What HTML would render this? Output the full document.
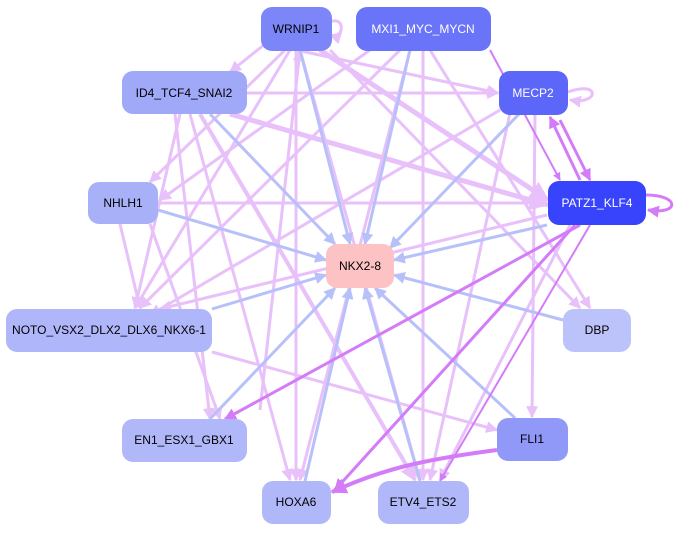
<!DOCTYPE html><html><head><style>body{margin:0;background:#fff}svg{display:block}text{font-family:"Liberation Sans",sans-serif;font-size:12px;text-anchor:middle;dominant-baseline:central}</style></head><body>
<svg width="677" height="533" viewBox="0 0 677 533">
<defs>
<marker id="a" viewBox="0 0 10 10" refX="9" refY="5" markerWidth="4" markerHeight="4" orient="auto"><path d="M0,0L10,5L0,10z" fill="#e8c0fa"/></marker>
<marker id="b" viewBox="0 0 10 10" refX="9" refY="5" markerWidth="4" markerHeight="4" orient="auto"><path d="M0,0L10,5L0,10z" fill="#b8c0fa"/></marker>
<marker id="m" viewBox="0 0 10 10" refX="9" refY="5" markerWidth="4" markerHeight="4" orient="auto"><path d="M0,0L10,5L0,10z" fill="#d47cf8"/></marker>
</defs>
<g fill="none" stroke-width="3">
<g stroke="#e8c0fa" marker-end="url(#a)">
<path d="M296,50 L498,93"/><path d="M320,50 L548,200" stroke-width="5"/><path d="M296,50 L296,480"/><path d="M300,50 L420,480"/><path d="M290,50 L135,308"/><path d="M285,50 L150,182"/><path d="M270,40 L230,72"/><path d="M330,50 L580,308"/>
<path d="M400,50 L140,308"/><path d="M410,50 L300,480"/><path d="M423,50 L423,480"/><path d="M430,50 L590,308"/><path d="M370,50 L160,200"/>
<path d="M247,93 L498,93"/><path d="M230,114 L548,205" stroke-width="5"/><path d="M190,114 L290,480"/><path d="M200,114 L415,480" stroke-width="4"/><path d="M180,114 L135,308"/><path d="M175,114 L210,419"/>
<path d="M158,203 L546,203"/><path d="M510,113 L430,480"/><path d="M535,113 L532,417"/><path d="M500,110 L150,315"/>
<path d="M547,215 L160,309"/><path d="M570,225 L440,480"/><path d="M212,352 L497,430"/>
<path d="M150,224 L220,419"/><path d="M120,224 L140,308"/><path d="M260,410 L300,50"/>
<path d="M568,92 C600,80 600,105 570,100"/><path d="M330,22 C345,15 345,40 330,35"/>
</g>
<g stroke="#b8c0fa" marker-end="url(#b)">
<path d="M300,50 L350,244"/><path d="M410,50 L365,244"/><path d="M210,114 L335,244"/><path d="M520,113 L390,248"/><path d="M158,210 L326,260"/><path d="M547,225 L394,260"/><path d="M212,309 L326,275"/><path d="M563,320 L394,275"/><path d="M210,419 L335,288"/><path d="M515,418 L375,288"/><path d="M305,481 L350,288"/><path d="M420,481 L365,288"/>
</g>
<g stroke="#d47cf8" marker-end="url(#m)">
<path d="M580,225 L225,419"/><path d="M575,225 L335,490"/><path d="M590,225 L440,481" stroke-width="2"/><path d="M580,180 L550,117"/><path d="M560,120 L590,180"/><path d="M490,50 L560,180" stroke-width="2"/><path d="M497,450 C420,460 380,470 332,492" stroke-width="4"/><path d="M646,195 C680,195 680,215 648,210"/>
</g>
</g>
<g>
<rect x="261" y="7" width="71" height="44" rx="11" fill="#7c86f8"/><text x="296" y="29">WRNIP1</text>
<rect x="356" y="7" width="135" height="44" rx="11" fill="#6a74f8"/><text x="423" y="29" fill="#fff">MXI1_MYC_MYCN</text>
<rect x="122" y="71" width="125" height="43" rx="11" fill="#a0a8f8"/><text x="184" y="93">ID4_TCF4_SNAI2</text>
<rect x="499" y="71" width="69" height="44" rx="11" fill="#5c66f8"/><text x="533" y="93" fill="#fff">MECP2</text>
<rect x="88" y="182" width="70" height="42" rx="11" fill="#a8b0f8"/><text x="123" y="203">NHLH1</text>
<rect x="548" y="181" width="98" height="44" rx="11" fill="#3844fb"/><text x="597" y="203" fill="#fff">PATZ1_KLF4</text>
<rect x="326" y="244" width="68" height="44" rx="11" fill="#fcc2c4"/><text x="360" y="266">NKX2-8</text>
<rect x="6" y="309" width="206" height="43" rx="11" fill="#b0b6fa"/><text x="109" y="330">NOTO_VSX2_DLX2_DLX6_NKX6-1</text>
<rect x="563" y="309" width="68" height="43" rx="11" fill="#bcc2fa"/><text x="597" y="330">DBP</text>
<rect x="122" y="419" width="125" height="43" rx="11" fill="#b0b8fa"/><text x="184" y="440">EN1_ESX1_GBX1</text>
<rect x="497" y="418" width="71" height="43" rx="11" fill="#9098f8"/><text x="532" y="439">FLI1</text>
<rect x="262" y="481" width="69" height="43" rx="11" fill="#b0b8fa"/><text x="296" y="502">HOXA6</text>
<rect x="378" y="481" width="91" height="43" rx="11" fill="#b0b8fa"/><text x="423" y="502">ETV4_ETS2</text>
</g>
</svg></body></html>
